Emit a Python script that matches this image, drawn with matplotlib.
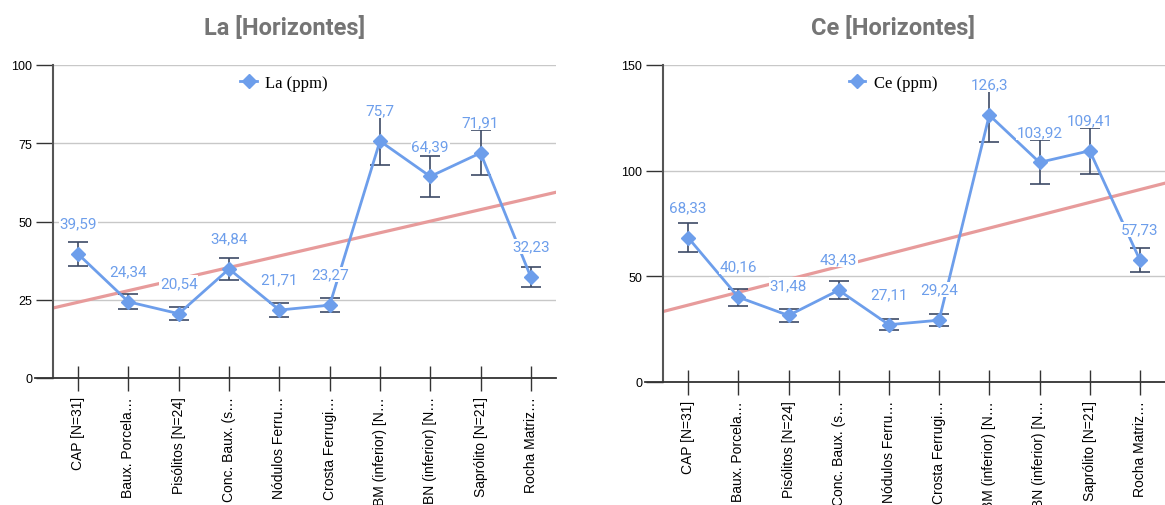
import numpy as np
import matplotlib
matplotlib.use('Agg')
import matplotlib.pyplot as plt

categorias = ['CAP [N=31]', 'Baux. Porcela…', 'Pisólitos [N=24]', 'Conc. Baux. (s…',
              'Nódulos Ferru…', 'Crosta Ferrugi…', 'BM (inferior) [N…', 'BN (inferior) [N…',
              'Saprólito [N=21]', 'Rocha Matriz…']

la = [39.59, 24.34, 20.54, 34.84, 21.71, 23.27, 75.7, 64.39, 71.91, 32.23]
la_err = [3.96, 2.43, 2.05, 3.48, 2.17, 2.33, 7.57, 6.44, 7.19, 3.22]

ce = [68.33, 40.16, 31.48, 43.43, 27.11, 29.24, 126.3, 103.92, 109.41, 57.73]
ce_err = [6.83, 4.02, 3.15, 4.34, 2.71, 2.92, 12.63, 10.39, 10.94, 5.77]

AZUL = '#6d9eeb'
VERMELHO = '#e79b9b'
ERRO = '#3d4a66'
W, H = 1165, 506

fig = plt.figure(figsize=(W / 100, H / 100), dpi=100)


#======================== UM GRAFICO ========================
def desenha(pos, valores, erros, ymax, yticks, titulo, legenda, xtitulo, xleg):
    ax = fig.add_axes(pos)
    x = np.arange(len(valores))

    # linha de tendencia
    a, b = np.polyfit(x + 1, valores, 1)
    xt = np.array([-0.5, 9.5])
    ax.plot(xt, a * (xt + 1) + b, color=VERMELHO, lw=2.3, zorder=2)

    ax.errorbar(x, valores, yerr=erros, fmt='none', ecolor=ERRO, elinewidth=1.2,
                capsize=7, capthick=1.2, zorder=3)
    ax.plot(x, valores, color=AZUL, lw=2, marker='D', ms=7, zorder=4, label=legenda)

    for xi, v in zip(x, valores):
        ax.annotate(str(v).replace('.', ','), (xi, v), xytext=(0, 22), textcoords='offset points',
                    ha='center', va='center', color=AZUL, fontsize=11, family='Roboto',
                    bbox=dict(boxstyle='square,pad=0.05', fc='white', ec='none'), zorder=5)

    ax.set_xlim(-0.5, 9.5)
    ax.set_ylim(0, ymax)
    ax.set_yticks(yticks)
    ax.set_xticks(x)
    ax.set_xticklabels(categorias, rotation=90, fontsize=10, family='Liberation Sans', va='top')
    ax.tick_params(axis='x', direction='inout', length=18, width=1, color='#333333', pad=4)
    ax.tick_params(axis='y', direction='out', length=12, width=1, color='#333333',
                   labelsize=9, pad=3)
    for t in ax.get_yticklabels():
        t.set_family('Liberation Sans')

    ax.grid(axis='y', color='#c8c8c8', lw=1)
    ax.set_axisbelow(True)
    for s in ['top', 'right']:
        ax.spines[s].set_visible(False)
    ax.spines['left'].set_color('#555555')
    ax.spines['left'].set_linewidth(1.5)
    ax.spines['bottom'].set_color('#333333')
    ax.spines['bottom'].set_linewidth(1.3)
    ax.spines['bottom'].set_bounds(-0.85, 9.5)

    ax.legend(loc='center', bbox_to_anchor=(xleg / W, 1 - 84 / H), bbox_transform=fig.transFigure,
              frameon=False, handlelength=1, handletextpad=0.5,
              prop={'family': 'Liberation Serif', 'size': 12})
    fig.text(xtitulo / W, 1 - 28 / H, titulo, ha='center', va='center', fontsize=17,
             fontweight='bold', color='#757575', family='Roboto')
    return ax


desenha([53 / W, 1 - 379 / H, 503 / W, 313 / H], la, la_err, 100, [0, 25, 50, 75, 100],
        'La [Horizontes]', 'La (ppm)', 285, 284)
desenha([663 / W, 1 - 383 / H, 502 / W, 317 / H], ce, ce_err, 150, [0, 50, 100, 150],
        'Ce [Horizontes]', 'Ce (ppm)', 893, 893)

fig.savefig('out.png', dpi=100)
